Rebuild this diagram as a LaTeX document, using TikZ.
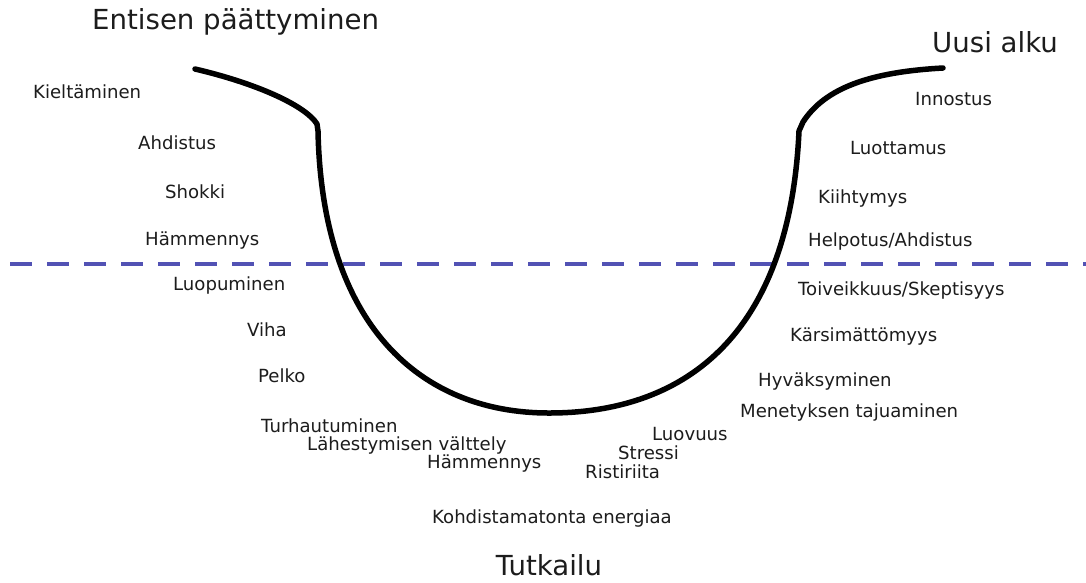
\documentclass[tikz,border=0pt]{standalone}
\usepackage{fontspec}
\setmainfont{DejaVu Sans}
\definecolor{dashblue}{HTML}{5252B4}
\definecolor{txt}{HTML}{1C1C1C}
\begin{document}
\begin{tikzpicture}[x=1pt,y=-1pt,
  lbl/.style={anchor=west,inner sep=0pt,text=txt,font=\fontsize{18.1}{21}\selectfont},
  ttl/.style={anchor=west,inner sep=0pt,text=txt,font=\fontsize{27.6}{31}\selectfont},
  curve/.style={line width=5.5pt,line cap=round,line join=round},
  sep/.style={dashblue,line width=3.5pt,dash pattern=on 22pt off 15pt}]
\useasboundingbox[fill=white] (0,0) rectangle (1086,582);
% separator
\draw[sep] (10,264) -- (1086,264);
% curve
\draw[curve] (195,69) .. controls (255,83) and (305,105) .. (317,124) -- (318,131)
  .. controls (322,325) and (420,413) .. (549,413)
  .. controls (690,413) and (790,330) .. (799,131) -- (803,122)
  .. controls (825,88) and (870,72) .. (943,68);
% titles
\node[ttl] (t1) at (92,22) {Entisen päättyminen};
\node[ttl] (t2) at (932,42) {Uusi alku};
\node[ttl,anchor=center] (t3) at (549,565) {Tutkailu};
% left labels
\node[lbl] (a1) at (33,92) {Kieltäminen};
\node[lbl] (a2) at (138,143) {Ahdistus};
\node[lbl] (a3) at (165,192) {Shokki};
\node[lbl] (a4) at (145,241) {Hämmennys};
\node[lbl] (a5) at (173,285) {Luopuminen};
\node[lbl] (a6) at (247,330) {Viha};
\node[lbl] (a7) at (258,376) {Pelko};
\node[lbl] (a8) at (261,426) {Turhautuminen};
\node[lbl] (a9) at (307,445) {Lähestymisen välttely};
\node[lbl] (a10) at (427,464) {Hämmennys};
\node[lbl] (a11) at (432,518) {Kohdistamatonta energiaa};
% bottom right
\node[lbl] (b1) at (585,472) {Ristiriita};
\node[lbl] (b2) at (618,453) {Stressi};
\node[lbl] (b3) at (652,434) {Luovuus};
% right labels
\node[lbl] (c1) at (915,99) {Innostus};
\node[lbl] (c2) at (850,148) {Luottamus};
\node[lbl] (c3) at (818,198) {Kiihtymys};
\node[lbl] (c4) at (808,241) {Helpotus/Ahdistus};
\node[lbl] (c5) at (798,290) {Toiveikkuus/Skeptisyys};
\node[lbl] (c6) at (790,336) {Kärsimättömyys};
\node[lbl] (c7) at (758,381) {Hyväksyminen};
\node[lbl] (c8) at (740,412) {Menetyksen tajuaminen};
\end{tikzpicture}
\end{document}
